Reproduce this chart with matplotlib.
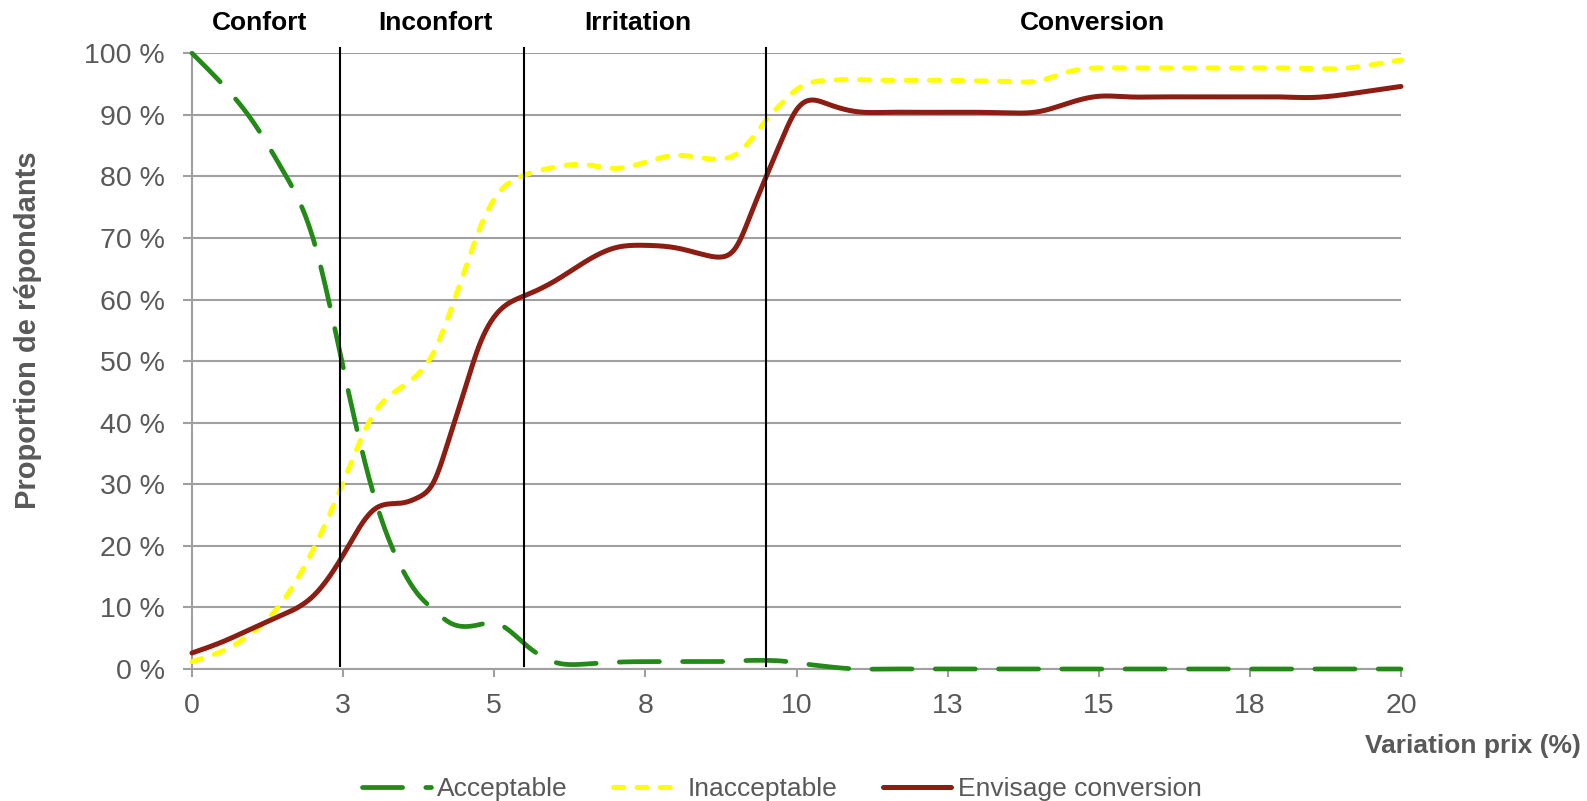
import numpy as np
import matplotlib
matplotlib.use("Agg")
import matplotlib.pyplot as plt
import matplotlib.transforms as mtransforms

plt.rcParams['font.family'] = ['Liberation Sans', 'DejaVu Sans']

# ---- data ----
x_pts = [0, 0.5, 1, 1.5, 2, 2.5, 3, 3.5, 3.75, 4, 4.25, 4.5, 4.75, 5, 5.5, 6, 6.5, 7,
         7.5, 8, 8.5, 8.75, 9, 9.25, 9.5, 9.75, 10, 10.5, 11, 11.5, 12, 12.5, 13,
         13.5, 14, 14.5, 15, 15.5, 16, 16.5, 17, 17.5, 18, 18.5, 19, 19.5, 20]

acceptable = [100, 95.0, 89.0, 81.0, 70.0, 49.0, 28.5, 15.8, 12.0, 9.6, 7.6, 6.9, 7.2,
              7.5, 4.1, 1.1, 0.8, 1.1, 1.2, 1.2, 1.2, 1.2, 1.3, 1.4, 1.4, 1.3, 1.0,
              0.4, 0, 0, 0, 0, 0, 0, 0, 0, 0, 0, 0, 0, 0, 0, 0, 0, 0, 0, 0]

inacceptable = [1.2, 2.9, 5.9, 11.0, 19.3, 30.3, 41.3, 46.0, 48.0, 51.5, 57.5, 64.4,
                71.3, 76.3, 80.2, 81.5, 81.9, 81.3, 82.3, 83.4, 82.9, 82.8, 83.6,
                86.0, 89.2, 91.8, 94.1, 95.6, 95.7, 95.6, 95.6, 95.6, 95.5, 95.4,
                95.5, 97.0, 97.6, 97.6, 97.6, 97.6, 97.6, 97.6, 97.6, 97.5, 97.5,
                98.1, 98.9]

conversion = [2.6, 4.4, 6.6, 8.8, 11.8, 18.5, 25.8, 27.0, 27.9, 30.4, 37.3, 45.0,
              52.5, 57.2, 60.6, 63.0, 66.1, 68.4, 68.8, 68.4, 67.2, 66.9, 68.5,
              74.0, 80.0, 85.8, 90.8, 91.8, 90.5, 90.4, 90.4, 90.4, 90.4, 90.3,
              90.5, 91.9, 93.0, 92.9, 92.9, 92.9, 92.9, 92.9, 92.9, 92.8, 93.2,
              93.9, 94.6]

zone_limits = [2.45, 5.5, 9.5]
zone_names = ["Confort", "Inconfort", "Irritation", "Conversion"]
zone_label_x = [1.12, 4.02, 7.38, 14.89]

tick_pos = [0, 2.5, 5, 7.5, 10, 12.5, 15, 17.5, 20]
tick_labels = ["0", "3", "5", "8", "10", "13", "15", "18", "20"]
y_ticks = [0, 10, 20, 30, 40, 50, 60, 70, 80, 90, 100]
y_labels = ["%d\u00a0%%" % v for v in y_ticks]


def smooth(xs, ys, n=24):
    """Natural cubic spline through the read points (smoothed line rendering)."""
    xs = np.asarray(xs, float)
    ys = np.asarray(ys, float)
    k = len(xs)
    h = np.diff(xs)
    A = np.zeros((k, k))
    b = np.zeros(k)
    A[0, 0] = A[-1, -1] = 1.0
    for i in range(1, k - 1):
        A[i, i - 1] = h[i - 1]
        A[i, i] = 2 * (h[i - 1] + h[i])
        A[i, i + 1] = h[i]
        b[i] = 6 * ((ys[i + 1] - ys[i]) / h[i] - (ys[i] - ys[i - 1]) / h[i - 1])
    M = np.linalg.solve(A, b)
    ox, oy = [], []
    for i in range(k - 1):
        t = np.linspace(xs[i], xs[i + 1], n, endpoint=False)
        a = xs[i + 1] - t
        c = t - xs[i]
        yy = (M[i] * a**3 + M[i + 1] * c**3) / (6 * h[i]) \
            + (ys[i] / h[i] - M[i] * h[i] / 6) * a \
            + (ys[i + 1] / h[i] - M[i + 1] * h[i] / 6) * c
        ox.append(t)
        oy.append(yy)
    ox.append([xs[-1]])
    oy.append([ys[-1]])
    return np.concatenate(ox), np.concatenate(oy)


W, H = 1587, 801
fig = plt.figure(figsize=(W / 100, H / 100), dpi=100)
ax = fig.add_axes([192 / W, 1 - 669 / H, (1401 - 192) / W, (669 - 53.2) / H])

grid_col = "#A0A0A0"
text_col = "#595959"

ax.set_xlim(0, 20)
ax.set_ylim(0, 100)
ax.set_yticks(y_ticks)
ax.set_yticklabels(y_labels)
ax.set_xticks(tick_pos)
ax.set_xticklabels(tick_labels)
ax.yaxis.grid(True, color=grid_col, linewidth=1.5)
ax.set_axisbelow(True)
for s in ["top", "right"]:
    ax.spines[s].set_visible(False)
for s in ["left", "bottom"]:
    ax.spines[s].set_color(grid_col)
    ax.spines[s].set_linewidth(1.5)
ax.tick_params(axis="y", length=6.5, width=1.5, color=grid_col, pad=13,
               labelsize=20.5, labelcolor=text_col)
ax.tick_params(axis="x", length=6, width=1.5, color=grid_col, pad=11.5,
               labelsize=20.5, labelcolor=text_col)

sx, sy = smooth(x_pts, acceptable)
ax.plot(sx, sy, color="#238A17", linewidth=3.4, dashes=(8.5, 4.9),
        dash_capstyle="round", clip_on=False, label="Acceptable", zorder=3)
sx, sy = smooth(x_pts, inacceptable)
ax.plot(sx, sy, color="#FFFF00", linewidth=3.6, dashes=(2.0, 2.67),
        dash_capstyle="round", clip_on=False, label="Inacceptable", zorder=3)
sx, sy = smooth(x_pts, conversion)
ax.plot(sx, sy, color="#8C1D12", linewidth=3.6, solid_capstyle="round",
        clip_on=False, label="Envisage conversion", zorder=4)

for xl in zone_limits:
    ax.plot([xl, xl], [0.5, 100.9], color="black", linewidth=1.5,
            clip_on=False, zorder=5)

blend = mtransforms.blended_transform_factory(ax.transData, fig.transFigure)
for name, xp in zip(zone_names, zone_label_x):
    ax.text(xp, 1 - 23.5 / H, name, transform=blend,
            ha="center", va="center", fontsize=19, fontweight="bold", color="black")

fig.text(28 / W, 1 - 330 / H, "Proportion de répondants", rotation=90,
         ha="center", va="center", fontsize=21, fontweight="bold", color=text_col)
fig.text(1581 / W, 1 - 746 / H, "Variation prix (%)", ha="right", va="center",
         fontsize=19, fontweight="bold", color=text_col)

leg = fig.legend(loc="center", bbox_to_anchor=(782 / W, 1 - 789 / H), ncol=3,
                 frameon=False, fontsize=19, handlelength=2.6, handletextpad=0.25,
                 columnspacing=1.7, labelcolor=text_col)

fig.savefig("out.png", dpi=100)
